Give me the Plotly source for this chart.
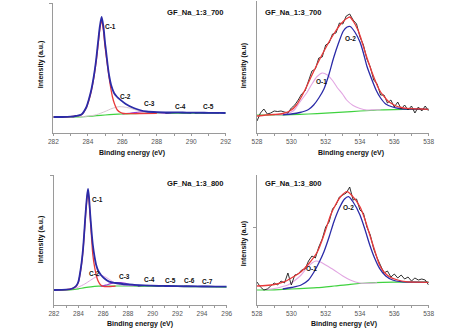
import plotly.graph_objects as go

# ---------------- Panel 1: C 1s, GF_Na_1:3_700 ----------------
c7_env_e = [282, 282.5, 283, 283.3, 283.63, 283.92, 284.05, 284.2, 284.35, 284.48, 284.6, 284.7, 284.8,
            284.9, 285.0, 285.05, 285.15, 285.24, 285.35, 285.52, 285.7, 285.9, 286.2, 286.66, 287.0,
            287.41, 288, 288.5, 289, 289.5, 290, 290.5, 291, 291.5, 292]
c7_env = [16, 16, 16.3, 17, 18.5, 26, 33, 43, 57, 73, 92, 107, 116,
          107, 90, 83, 68, 57, 48, 40, 36, 33, 29, 25, 23,
          21.5, 20.8, 20.6, 20.6, 20.5, 20.4, 20.3, 20.2, 20.1, 20]
c7_c1_e = [282, 282.5, 283, 283.3, 283.63, 283.92, 284.05, 284.2, 284.35, 284.48, 284.6, 284.7, 284.8,
           284.9, 285.0, 285.15, 285.3, 285.43, 285.55, 285.71, 285.9, 286.09, 286.5, 287, 288]
c7_c1 = [16, 16, 16.3, 17, 18.3, 25.5, 32, 42, 55.5, 71, 89, 104, 113,
         103, 86, 66, 48, 36, 29, 23, 20.5, 19.5, 19.3, 19.5, 19.7]
c7_c2_e = [283.5, 284, 284.5, 285, 285.4, 285.8, 286.1, 286.4, 286.8, 287.2, 287.6, 288, 288.5]
c7_c2 = [16.2, 16.8, 18.3, 21.5, 24.5, 26.3, 26, 25, 23, 21.2, 20.2, 19.8, 19.7]
c7_c3_e = [286, 286.5, 287, 287.4, 287.8, 288.3, 288.8]
c7_c3 = [19.2, 20, 21, 21.5, 21, 20.2, 19.9]
c7_c4_e = [288.5, 289.2, 290]
c7_c4 = [19.8, 20.3, 19.9]
c7_c5_e = [290.2, 290.9, 291.6]
c7_c5 = [19.9, 20.2, 20.0]
c7_bg_e = [282, 283, 283.6, 284, 284.5, 285, 285.5, 286, 286.5, 287, 288, 289, 290, 291, 292]
c7_bg = [16, 16, 16.2, 16.6, 17.3, 18, 18.6, 19, 19.3, 19.5, 19.7, 19.8, 19.9, 19.9, 20]

# ---------------- Panel 2: O 1s, GF_Na_1:3_700 ----------------
o_e = [528.0, 528.2, 528.4, 528.6, 528.8, 529.0, 529.2, 529.4, 529.6, 529.8,
       530.0, 530.2, 530.4, 530.6, 530.8, 531.0, 531.2, 531.4, 531.6, 531.8,
       532.0, 532.2, 532.4, 532.6, 532.8, 533.0, 533.2, 533.4, 533.6, 533.8,
       534.0, 534.2, 534.4, 534.6, 534.8, 535.0, 535.2, 535.4, 535.6, 535.8,
       536.0, 536.2, 536.4, 536.6, 536.8, 537.0, 537.2, 537.4, 537.6, 537.8, 538.0]
o7_raw = [12, 20, 24, 19, 20, 22, 21.5, 22, 21, 20,
          25, 28, 33, 39, 42, 52, 62, 64, 75, 76,
          88, 90, 99, 100, 110, 109, 117, 119, 113, 109,
          96, 88, 74, 66, 53, 49, 38, 38, 30, 33,
          26, 31, 24, 28, 23, 27, 20, 26, 22, 27, 22]
o7_env_e = [528, 528.5, 529, 529.5, 530, 530.3, 530.55, 530.85, 531.12, 531.4, 531.69, 532, 532.26,
            532.55, 532.83, 533.05, 533.22, 533.41, 533.6, 533.88, 534.05, 534.26, 534.45, 534.65,
            534.85, 535.03, 535.2, 535.41, 535.6, 535.79, 536.1, 536.4, 536.74, 537.2, 537.6, 538]
o7_env = [17, 18, 18.5, 19.5, 23, 28, 35, 45, 55, 65, 75, 85, 93,
          101, 108, 112, 114.5, 116, 112, 103, 95, 83, 73, 63,
          54, 46.5, 41, 36.5, 32.5, 30, 27, 25.5, 24.7, 24.2, 24, 23.7]
o7_o2_e = [529.5, 530, 530.5, 531, 531.3, 531.6, 531.9, 532.2, 532.46, 532.75, 533.03, 533.25, 533.43,
           533.7, 534.0, 534.2, 534.4, 534.7, 534.95, 535.2, 535.5, 535.9, 536.3, 536.8, 537.5, 538]
o7_o2 = [18.2, 19, 20.5, 23.5, 28, 35, 44, 59, 75, 90, 102, 106, 106.5,
         101, 91, 80, 67, 53, 42.5, 35, 29, 26, 24.5, 24, 23.8, 23.7]
o7_o1_e = [529, 529.5, 530, 530.2, 530.5, 530.93, 531.2, 531.5, 531.8, 532.1, 532.4, 532.65,
           533.0, 533.22, 533.6, 534.0, 534.4, 534.8, 535.2]
o7_o1 = [18, 18.5, 21, 23.5, 31, 41, 49, 56.5, 60, 58, 52.5, 46,
         38.5, 33, 27.5, 24.5, 23, 23.3, 23.2]
o7_bg_e = [528, 529, 530, 531, 532, 533, 534, 535, 536, 537, 538]
o7_bg = [18, 18, 18.3, 19, 19.8, 20.8, 22, 23, 23.4, 23.6, 23.7]

# ---------------- Panel 3: C 1s, GF_Na_1:3_800 ----------------
c8_env_e = [282, 283, 283.5, 283.8, 283.98, 284.2, 284.37, 284.56, 284.68, 284.77, 284.86, 284.95,
            285.05, 285.16, 285.3, 285.43, 285.6, 285.82, 286.1, 286.48, 287, 287.54, 288.5, 289.91,
            291, 292, 293, 294, 295, 296]
c8_env = [15, 15.3, 16.5, 19, 23, 38, 56.7, 90, 108, 116, 106, 90,
          74, 60, 48, 40, 34, 30, 26.5, 23.3, 22, 21, 20.2, 19.3,
          19, 18.8, 18.6, 18.5, 18.4, 18.3]
c8_c1_e = [282, 283, 283.5, 283.8, 283.98, 284.2, 284.37, 284.56, 284.68, 284.77, 284.86, 284.95,
           285.05, 285.16, 285.3, 285.43, 285.55, 285.69, 285.85, 286, 286.3, 287]
c8_c1 = [15, 15.3, 16.4, 18.7, 22.5, 37, 55.5, 88, 106, 114, 103, 86,
         68, 50, 38, 30, 25, 21.7, 19.5, 18.6, 18.3, 18.8]
c8_c2_e = [283, 283.6, 284, 284.5, 285, 285.4, 285.8, 286.1, 286.5, 287, 287.5, 288, 288.5]
c8_c2 = [15.2, 16.5, 18, 21, 25, 28, 29.5, 28.5, 25.5, 21.5, 20, 19.4, 19.2]
c8_c3_e = [285.8, 286.2, 286.6, 287.0, 287.4, 287.8, 288.2, 288.6, 289]
c8_c3 = [18.7, 19.8, 21.3, 22.3, 22.4, 21.6, 20.3, 19.5, 19.2]
c8_c4_e = [288.8, 289.6, 290.4]
c8_c4 = [19, 19.6, 19]
c8_c5_e = [290.4, 291.2, 292]
c8_c5 = [18.9, 19.4, 18.8]
c8_c6_e = [292, 292.8, 293.6]
c8_c6 = [18.7, 19.1, 18.6]
c8_c7_e = [293.6, 294.4, 295.2]
c8_c7 = [18.5, 18.9, 18.4]
c8_bg_e = [282, 283, 283.5, 284, 284.5, 285, 285.6, 286.5, 288, 290, 292, 294, 296]
c8_bg = [15, 15, 15.3, 16.2, 17.3, 18.2, 18.8, 19, 19, 18.9, 18.6, 18.3, 17.9]

# ---------------- Panel 4: O 1s, GF_Na_1:3_800 ----------------
o8_raw = [23, 18, 15, 16, 19, 22, 20, 24, 22, 32,
          20, 30, 31, 35, 36, 44, 49, 47, 58, 66,
          78, 83, 96, 100, 108, 110, 112, 118, 105, 106,
          95, 92, 78, 70, 56, 47, 40, 32, 34, 28,
          31, 27, 30, 26, 28, 24, 27, 25, 26, 25, 20]
o8_env_e = [528, 528.5, 529, 529.6, 530, 530.57, 531, 531.52, 531.9, 532.29, 532.6, 532.86, 533.24,
            533.5, 534, 534.3, 534.57, 534.85, 535.14, 535.4, 535.71, 536.2, 536.67, 537.3, 538]
o8_env = [19, 19.5, 20.5, 23.3, 27, 33.3, 41, 53.3, 70, 90, 101, 108, 113.3,
          110, 98.3, 85, 70, 55, 40, 33, 28.3, 25, 23.3, 22.8, 22.7]
o8_o2_e = [529.5, 530, 530.57, 531, 531.33, 531.6, 531.9, 532.2, 532.48, 532.8, 533.1, 533.33,
           533.6, 534, 534.3, 534.57, 534.85, 535.14, 535.5, 535.9, 536.4, 537, 538]
o8_o2 = [16, 17.5, 20, 25, 33.3, 42, 53.3, 68, 83.3, 97, 106, 108.3,
         103, 90, 75, 60, 47, 36.7, 29, 25, 23.3, 22.8, 22.7]
o8_o1_e = [528.5, 529, 529.4, 529.8, 530.2, 530.57, 530.9, 531.2, 531.43, 531.7, 532, 532.48,
           533, 533.43, 534, 534.5, 535]
o8_o1 = [15.5, 16.5, 18, 20, 24.5, 30, 37, 42, 44, 43, 40, 35,
         29, 25, 22, 21.8, 22.3]
o8_bg_e = [528, 529, 530, 531, 531.5, 532.5, 533.43, 534.4, 535.33, 536, 538]
o8_bg = [15, 15.2, 16, 16.8, 17.3, 19, 20.7, 22, 22.7, 22.8, 22.8]

C_LABELS_700 = ["C-1", "C-2", "C-3", "C-4", "C-5"]
C_LABELS_800 = ["C-1", "C-2", "C-3", "C-4", "C-5", "C-6", "C-7"]
O_LABELS = ["O-1", "O-2"]
TITLES = ["GF_Na_1:3_700", "GF_Na_1:3_700", "GF_Na_1:3_800", "GF_Na_1:3_800"]

BLUE = "#2b2ba8"
RED = "#e8393a"
GREEN = "#3fd23f"
PINK = "#e2a6e2"
GREYPINK = "#d9c6cf"
PURPLE = "#9b3fd0"
NAVY = "#1e2a78"
BLACK = "#1a1a1a"

W, H = 474, 330
fig = go.Figure()


def line(x, y, color, width, ax, spline=True):
    fig.add_trace(go.Scatter(
        x=x, y=y, mode="lines", xaxis="x" + ax, yaxis="y" + ax,
        line=dict(color=color, width=width, shape="spline" if spline else "linear", smoothing=0.7),
        showlegend=False, hoverinfo="skip"))


# panel 1
line(c7_bg_e, c7_bg, GREEN, 1.2, "")
line(c7_c2_e, c7_c2, GREYPINK, 1, "")
line(c7_c3_e, c7_c3, PURPLE, 1.2, "")
line(c7_c4_e, c7_c4, NAVY, 1, "")
line(c7_c5_e, c7_c5, NAVY, 1, "")
line(c7_c1_e, c7_c1, RED, 1.3, "")
line(c7_env_e, c7_env, BLUE, 1.8, "")
# panel 2
line(o7_bg_e, o7_bg, GREEN, 1.2, "2")
line(o7_o1_e, o7_o1, PINK, 1.1, "2")
line(o7_o2_e, o7_o2, BLUE, 1.3, "2")
line(o_e, o7_raw, BLACK, 0.9, "2", spline=False)
line(o7_env_e, o7_env, RED, 1.3, "2")
# panel 3
line(c8_bg_e, c8_bg, GREEN, 1.2, "3")
line(c8_c2_e, c8_c2, PINK, 1, "3")
line(c8_c3_e, c8_c3, PURPLE, 1.2, "3")
for ee, vv in [(c8_c4_e, c8_c4), (c8_c5_e, c8_c5), (c8_c6_e, c8_c6), (c8_c7_e, c8_c7)]:
    line(ee, vv, NAVY, 1, "3")
line(c8_c1_e, c8_c1, RED, 1.3, "3")
line(c8_env_e, c8_env, BLUE, 1.8, "3")
# panel 4
line(o8_bg_e, o8_bg, GREEN, 1.2, "4")
line(o8_o1_e, o8_o1, PINK, 1.1, "4")
line(o8_o2_e, o8_o2, BLUE, 1.3, "4")
line(o_e, o8_raw, BLACK, 0.9, "4", spline=False)
line(o8_env_e, o8_env, RED, 1.3, "4")


def px_x(p):
    return p / W


def px_y(p):
    return 1 - p / H


AX = "#9a9a9a"
TICKF = dict(family="Liberation Sans, Arial", size=6.5, color="#555555")


def xaxis(dom, rng, t0, anchor):
    return dict(domain=[px_x(dom[0]), px_x(dom[1])], range=rng, anchor=anchor,
                showline=True, linecolor=AX, linewidth=1, showgrid=False, zeroline=False,
                ticks="outside", ticklen=2, tickcolor=AX, tick0=t0, dtick=2,
                minor=dict(dtick=1, tick0=t0, ticks="outside", ticklen=2, tickcolor=AX),
                tickfont=TICKF, fixedrange=True)


def yaxis(dom, rng, tv, anchor):
    return dict(domain=[px_y(dom[1]), px_y(dom[0])], range=rng, anchor=anchor,
                showline=True, linecolor=AX, linewidth=1, showgrid=False, zeroline=False,
                ticks="outside", ticklen=3, tickcolor=AX, tickvals=tv, showticklabels=False,
                fixedrange=True)


fig.update_layout(
    width=W, height=H, margin=dict(l=0, r=0, t=0, b=0),
    paper_bgcolor="white", plot_bgcolor="white",
    xaxis=xaxis((49.5, 226), [282, 292], 282, "y"),
    yaxis=yaxis((3, 133), [0, 130], [130], "x"),
    xaxis2=xaxis((258, 433.7), [528, 538], 528, "y2"),
    yaxis2=yaxis((1, 133), [0, 132], [], "x2"),
    xaxis3=xaxis((50, 227), [282, 296], 282, "y3"),
    yaxis3=yaxis((175, 305), [0, 130], [130], "x3"),
    xaxis4=xaxis((258, 433.7), [528, 538], 528, "y4"),
    yaxis4=yaxis((175, 305), [0, 130], [78], "x4"),
)

LBL = dict(family="Liberation Sans, Arial", size=6.5, color="#111111")
ann = []


def lab(text, x, y, ax):
    ann.append(dict(text="<b>%s</b>" % text, x=x, y=y, xref="x" + ax, yref="y" + ax,
                    showarrow=False, font=LBL, xanchor="center", yanchor="middle"))


for t, (x, y) in zip(C_LABELS_700, [(285.31, 106), (286.16, 36), (287.58, 29), (289.39, 26), (290.98, 26)]):
    lab(t, x, y, "")
for t, (x, y) in zip(C_LABELS_800, [(285.56, 106), (285.32, 32), (287.7, 29), (289.75, 26),
                                     (291.41, 25), (293.0, 25), (294.42, 24)]):
    lab(t, x, y, "3")
for t, (x, y) in zip(O_LABELS, [(531.73, 52), (533.45, 95)]):
    lab(t, x, y, "2")
for t, (x, y) in zip(O_LABELS, [(531.16, 37), (533.33, 98)]):
    lab(t, x, y, "4")

TF = dict(family="Liberation Sans, Arial", size=7.6, color="#111111")
for t, (x, y) in zip(TITLES, [(195, 12), (295, 12), (195, 183), (295, 183)]):
    ann.append(dict(text="<b>%s</b>" % t, x=px_x(x), y=px_y(y), xref="paper", yref="paper",
                    showarrow=False, font=TF, xanchor="center", yanchor="middle"))

AF = dict(family="Liberation Sans, Arial", size=7, color="#111111")
for (x, y) in [(130, 153), (354, 153), (138, 324), (347, 324)]:
    ann.append(dict(text="<b>Binding energy (eV)</b>", x=px_x(x), y=px_y(y), xref="paper", yref="paper",
                    showarrow=False, font=AF, xanchor="center", yanchor="middle"))
for t, (x, y) in zip(["Intensity (a.u.)", "Intensity (a.u)", "Intensity (a.u.)", "Intensity (a.u)"],
                     [(37, 65), (245, 65), (37, 240), (245, 243)]):
    ann.append(dict(text="<b>%s</b>" % t, x=px_x(x), y=px_y(y), xref="paper", yref="paper",
                    showarrow=False, font=AF, textangle=-90, xanchor="center", yanchor="middle"))

fig.update_layout(annotations=ann)
fig.write_html("out.html")
